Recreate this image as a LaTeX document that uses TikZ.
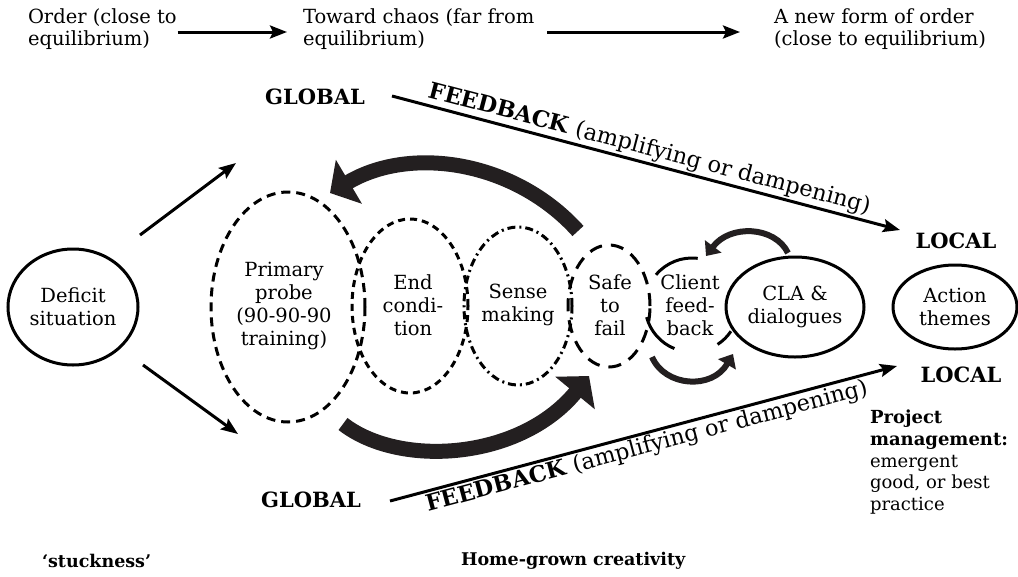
\documentclass[tikz,border=0pt]{standalone}
\usepackage{fontspec}
\setmainfont{DejaVu Serif}
\usetikzlibrary{arrows.meta,shapes.geometric}
\definecolor{ink}{HTML}{231F20}
\begin{document}
\begin{tikzpicture}[x=1pt,y=-1pt,
  every node/.style={inner sep=0pt, outer sep=0pt},
  toptxt/.style={font=\fontsize{19.5}{22}\selectfont, align=left, anchor=west},
  lbl/.style={font=\fontsize{19.5}{23}\selectfont, align=center},
  caps/.style={font=\bfseries\fontsize{21}{24}\selectfont},
  fbtxt/.style={font=\fontsize{22.5}{26}\selectfont},
  smalltxt/.style={font=\fontsize{18}{21.7}\selectfont, align=left},
  boldtxt/.style={font=\bfseries\fontsize{17.5}{21}\selectfont, anchor=west},
  shapeline/.style={line width=3pt},
  ovalbox/.style={ellipse, draw, shapeline},
  thinarrow/.style={line width=3pt, -{Stealth[length=17pt,width=13pt,inset=3pt]}},
  bigarrow/.style={draw=ink, line width=15pt, -{Triangle[length=22pt,width=50pt]}},
  smallarrow/.style={draw=ink, line width=6pt, -{Triangle[length=12pt,width=20pt]}},
]
\useasboundingbox (0,0) rectangle (1018,576);

% top row
\node[toptxt] (o1) at (28,29) {Order (close to\\equilibrium)};
\node[toptxt] (o2) at (303,29) {Toward chaos (far from\\equilibrium)};
\node[toptxt] (o3) at (774,29) {A new form of order\\(close to equilibrium)};
\draw[thinarrow] ([yshift=-3pt,xshift=1pt]o1.east) -- ([yshift=-3pt,xshift=-16pt]o2.west);
\coordinate (a2s) at (547,32);
\coordinate (a2e) at (740,32);
\draw[thinarrow] (a2s) -- (a2e);

% ellipses
\node[ovalbox, minimum width=130pt, minimum height=116pt] (def) at (73,307) {};
\node[lbl] (deft) at (def) {Deficit\\situation};

\node[ellipse, draw, shapeline, dash pattern=on 9pt off 6pt, minimum width=154pt, minimum height=230pt] (pp) at (288,307) {};
\node[lbl] (ppt) at (284,306) {Primary\\probe\\(90-90-90\\training)};

\node[ellipse, draw, shapeline, dash pattern=on 7pt off 5pt, minimum width=116pt, minimum height=174pt] (ec) at (410,306) {};
\node[lbl] (ect) at (413,305) {End\\condi-\\tion};

\node[ellipse, draw, shapeline, dash pattern=on 8pt off 4pt on 2pt off 4pt, minimum width=108pt, minimum height=158pt] (sm) at (518,306) {};
\node[lbl] (smt) at (518,305) {Sense\\making};

\node[ellipse, draw, shapeline, dash pattern=on 13pt off 9pt, minimum width=82pt, minimum height=122pt] (sf) at (609,306) {};
\node[lbl] (sft) at (610,305) {Safe\\to\\fail};

% client feedback (broken circle)
\node[circle, minimum size=94pt] (cf) at (692,305) {};
\begin{scope}[shift={(692,305)}, y=1pt]
  \draw[shapeline] (83:47) arc[start angle=83, end angle=140, radius=47];
  \draw[shapeline] (195:47) arc[start angle=195, end angle=248, radius=47];
  \draw[shapeline] (303:47) arc[start angle=303, end angle=326, radius=47];
\end{scope}
\node[lbl] (cft) at (690,305) {Client\\feed-\\back};

\node[ovalbox, minimum width=138pt, minimum height=100pt] (cla) at (795,307) {};
\node[lbl] (clat) at (cla) {CLA \&\\dialogues};

\node[ovalbox, minimum width=124pt, minimum height=84pt] (act) at (955,307) {};
\node[lbl] (actt) at (act) {Action\\themes};

% arrows from deficit
\coordinate (dus) at (140,235);
\coordinate (due) at (236,163);
\coordinate (dds) at (143,365);
\coordinate (dde) at (238,434);
\draw[thinarrow] (dus) -- (due);
\draw[thinarrow] (dds) -- (dde);

% global / local / feedback
\node[caps] (g1) at (315,97) {GLOBAL};
\node[caps] (g2) at (311,500) {GLOBAL};
\node[caps] (l1) at (956,241) {LOCAL};
\node[caps] (l2) at (961,375) {LOCAL};
\coordinate (f1s) at (392,96);
\coordinate (f1e) at (900,230);
\coordinate (f2s) at (390,501);
\coordinate (f2e) at (897,366);
\draw[thinarrow] (f1s) -- node[fbtxt, sloped, above=3pt] (f1t) {\textbf{FEEDBACK} (amplifying or dampening)} (f1e);
\draw[thinarrow] (f2s) -- node[fbtxt, sloped, below=3pt] (f2t) {\textbf{FEEDBACK} (amplifying or dampening)} (f2e);

% big arrows
\coordinate (bta) at (578,231);
\coordinate (btb) at (330,193);
\draw[bigarrow] (bta) .. controls (515,161) and (411,145) .. (btb);
\coordinate (bba) at (343,424);
\coordinate (bbb) at (589,376);
\draw[bigarrow] (bba) .. controls (400,468) and (520,460) .. (bbb);

% small arrows
\coordinate (sta) at (788,253);
\coordinate (stb) at (706,256);
\draw[smallarrow] (sta) .. controls (775,226) and (730,224) .. (stb);
\coordinate (sba) at (652,357);
\coordinate (sbb) at (733,354);
\draw[smallarrow] (sba) .. controls (665,387) and (712,390) .. (sbb);

% bottom texts
\node[smalltxt, anchor=north west] (pm) at (870,410) {\textbf{Project}\\\textbf{management:}\\emergent\\good, or best\\practice};
\node[boldtxt] (st) at (42,561) {‘stuckness’};
\node[boldtxt] (hg) at (461,561) {Home-grown creativity};
\end{tikzpicture}
\end{document}
